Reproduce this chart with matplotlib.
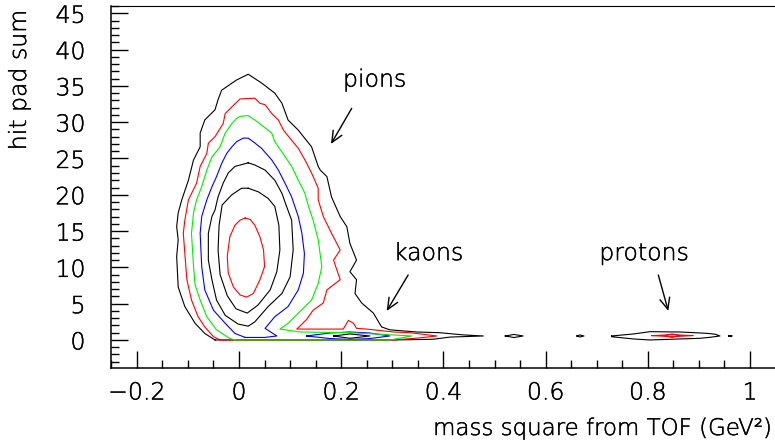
import matplotlib
matplotlib.use("Agg")
import matplotlib.pyplot as plt
import matplotlib.patheffects as pe
from matplotlib.ticker import MultipleLocator, FixedLocator, FixedFormatter

plt.rcParams['font.family'] = ['DejaVu Sans']
plt.rcParams['font.weight'] = 200

# === Axis ticks ===
x_major = [-0.2, 0.0, 0.2, 0.4, 0.6, 0.8, 1.0]
x_major_labels = ['\u22120.2', '0', '0.2', '0.4', '0.6', '0.8', '1']
y_major = [0, 5, 10, 15, 20, 25, 30, 35, 40, 45]
y_major_labels = ['0', '5', '10', '15', '20', '25', '30', '35', '40', '45']

# === Contour lines of hit pad sum vs m^2 (level 1 = outermost) ===
# level 1, pion + kaon band
lev1_x = [-0.047, -0.067, -0.086, -0.106, -0.119, -0.122, -0.119, -0.122, -0.119, -0.112,
          -0.099, -0.089, -0.076, -0.076, -0.067, -0.047, -0.041, -0.034, -0.005, 0.018,
          0.044, 0.070, 0.084, 0.096, 0.116, 0.142, 0.155, 0.159, 0.172, 0.181,
          0.198, 0.211, 0.217, 0.230, 0.217, 0.230, 0.227, 0.240, 0.263, 0.279,
          0.295, 0.348, 0.393, 0.439, 0.478, 0.413, 0.380, 0.302]
lev1_y = [0.0, 0.9, 2.3, 4.6, 7.3, 11.5, 13.8, 15.6, 17.5, 19.3,
          22.0, 24.8, 26.6, 28.5, 30.3, 31.7, 33.1, 34.4, 35.8, 36.6,
          35.4, 34.0, 32.6, 30.3, 28.9, 26.6, 23.9, 23.4, 22.5, 19.7,
          17.0, 15.6, 13.3, 11.0, 9.4, 8.3, 6.4, 5.1, 3.7, 1.8,
          1.4, 1.1, 1.0, 0.7, 0.55, 0.4, 0.1, 0.0]
# level 1 islands further out in m^2
isl1_x = [0.521, 0.538, 0.556, 0.538]
isl1_y = [0.55, 0.76, 0.55, 0.34]
isl2_x = [0.661, 0.667, 0.675, 0.667]
isl2_y = [0.55, 0.69, 0.55, 0.41]
isl3_x = [0.958, 0.961, 0.965, 0.961]
isl3_y = [0.55, 0.6, 0.55, 0.5]
# level 1, protons
prot1_x = [0.729, 0.772, 0.804, 0.863, 0.915, 0.932, 0.941, 0.922, 0.902, 0.804, 0.772, 0.729]
prot1_y = [0.55, 0.83, 1.14, 1.1, 0.92, 0.79, 0.55, 0.37, 0.23, 0.0, 0.14, 0.45]

# level 2
lev2_x = [-0.037, -0.050, -0.067, -0.080, -0.093, -0.102, -0.106, -0.109, -0.106, -0.099,
          -0.083, -0.076, -0.063, -0.060, -0.047, -0.031, -0.027, -0.014, 0.002, 0.031,
          0.041, 0.051, 0.064, 0.077, 0.087, 0.103, 0.116, 0.129, 0.142, 0.155,
          0.155, 0.165, 0.181, 0.198, 0.185, 0.198, 0.172, 0.165, 0.145, 0.132,
          0.113, 0.204, 0.214, 0.224, 0.230, 0.250, 0.302, 0.335, 0.387, 0.348, 0.302]
lev2_y = [0.0, 0.45, 1.8, 3.2, 5.5, 8.3, 11.9, 14.7, 16.5, 19.3,
          21.6, 23.9, 25.7, 27.1, 28.0, 29.8, 31.2, 32.1, 33.2, 33.3,
          32.6, 32.4, 31.2, 30.3, 28.9, 27.5, 26.4, 24.8, 23.0, 20.9,
          19.3, 17.0, 14.7, 12.4, 11.0, 8.3, 6.9, 5.1, 4.1, 2.8,
          1.5, 1.5, 2.7, 2.3, 1.6, 1.5, 1.1, 1.0, 0.55, 0.25, 0.0]
prot2_x = [0.808, 0.847, 0.889, 0.847]
prot2_y = [0.6, 0.73, 0.6, 0.45]
prot2b_x = [0.834, 0.847, 0.863, 0.847]
prot2b_y = [0.62, 0.83, 0.62, 0.34]

# level 3
lev3_x = [-0.008, -0.018, -0.044, -0.063, -0.076, -0.086, -0.089, -0.093, -0.089, -0.083,
          -0.073, -0.063, -0.053, -0.037, -0.027, -0.014, -0.005, 0.002, 0.018, 0.031,
          0.044, 0.064, 0.070, 0.084, 0.103, 0.116, 0.129, 0.136, 0.145, 0.155,
          0.162, 0.155, 0.142, 0.116, 0.096, 0.080, 0.119, 0.217, 0.286, 0.338,
          0.315, 0.295]
lev3_y = [0.0, 0.2, 1.4, 3.2, 5.5, 7.6, 10.1, 14.7, 17.5, 19.3,
          21.1, 23.4, 25.2, 26.6, 28.5, 29.8, 30.5, 30.8, 30.9, 30.3,
          29.6, 28.5, 27.3, 25.9, 23.9, 22.0, 20.2, 18.4, 16.5, 13.8,
          10.1, 7.8, 5.5, 3.7, 2.3, 1.5, 1.1, 1.0, 0.75, 0.55,
          0.25, 0.0]

# level 4
lev4_x = [0.012, -0.008, -0.027, -0.050, -0.067, -0.073, -0.076, -0.073, -0.063, -0.053,
          -0.044, -0.034, -0.024, -0.014, -0.005, 0.008, 0.018, 0.028, 0.044, 0.064,
          0.077, 0.090, 0.103, 0.116, 0.123, 0.128, 0.126, 0.116, 0.096, 0.070,
          0.051, 0.074, 0.050]
lev4_y = [0.35, 0.9, 2.3, 4.1, 6.9, 10.1, 14.7, 17.0, 19.3, 21.1,
          22.5, 24.3, 25.7, 26.6, 27.3, 27.8, 27.8, 27.3, 26.4, 24.8,
          23.4, 21.6, 19.7, 17.0, 14.7, 11.9, 9.2, 6.9, 4.6, 3.2,
          1.6, 0.55, 0.35]
kaon4_x = [0.132, 0.178, 0.217, 0.256, 0.295, 0.256, 0.217, 0.178]
kaon4_y = [0.55, 0.96, 1.1, 0.96, 0.55, 0.2, 0.07, 0.2]

# level 5
lev5_x = [0.018, 0.031, 0.051, 0.070, 0.084, 0.093, 0.103, 0.106, 0.100, 0.084,
          0.057, 0.031, 0.018, -0.002, -0.027, -0.044, -0.053, -0.060, -0.060, -0.053,
          -0.047, -0.041, -0.031, -0.021, -0.008]
lev5_y = [24.4, 24.1, 23.4, 22.0, 20.2, 18.4, 16.5, 12.4, 8.7, 6.4,
          4.6, 2.5, 1.9, 2.2, 3.4, 5.5, 8.3, 11.0, 14.7, 17.0,
          17.9, 19.7, 21.6, 23.0, 23.9]
kaon5_x = [0.185, 0.217, 0.256, 0.217]
kaon5_y = [0.55, 0.83, 0.55, 0.23]

# level 6
lev6_x = [0.018, 0.038, 0.057, 0.070, 0.078, 0.080, 0.074, 0.061, 0.037, 0.016,
          -0.006, -0.023, -0.037, -0.041, -0.039, -0.033, -0.014, 0.005]
lev6_y = [20.9, 20.4, 19.5, 18.4, 15.8, 12.4, 9.4, 6.9, 4.8, 3.7,
          4.3, 6.1, 9.0, 12.4, 15.8, 18.6, 20.0, 20.9]

# level 7
lev7_x = [0.012, 0.022, 0.031, 0.041, 0.048, 0.050, 0.041, 0.028, 0.015, 0.002,
          -0.011, -0.021, -0.023, -0.018, -0.008, 0.002]
lev7_y = [16.8, 16.6, 15.8, 14.2, 12.4, 10.1, 8.3, 6.4, 5.9, 6.2,
          7.3, 9.2, 11.5, 14.2, 15.8, 16.5]

BLACK, RED, GREEN, BLUE = '#000000', '#ff0000', '#00ee00', '#0000ff'

contours = [
    (lev1_x, lev1_y, BLACK, 2), (isl1_x, isl1_y, BLACK, 2), (isl2_x, isl2_y, BLACK, 2),
    (isl3_x, isl3_y, BLACK, 2), (prot1_x, prot1_y, BLACK, 2),
    (lev2_x, lev2_y, RED, 3), (prot2_x, prot2_y, RED, 3), (prot2b_x, prot2b_y, RED, 3),
    (lev4_x, lev4_y, BLUE, 4), (kaon4_x, kaon4_y, BLUE, 4),
    (lev3_x, lev3_y, GREEN, 5),
    (lev5_x, lev5_y, BLACK, 6), (kaon5_x, kaon5_y, BLACK, 6),
    (lev6_x, lev6_y, BLACK, 6), (lev7_x, lev7_y, RED, 6),
]

# thin font, darkened a little with an outline
ink = [pe.withStroke(linewidth=0.3, foreground='black')]

fig = plt.figure(figsize=(7.75, 4.43), dpi=100)
ax = fig.add_axes([111.25 / 775, 75 / 443, 664.35 / 775, 362 / 443])

for xs, ys, col, z in contours:
    ax.plot(xs + xs[:1], ys + ys[:1], color=col, lw=0.8, zorder=z)

ax.set_xlim(-0.25, 1.05)
ax.set_ylim(-3.86, 46.0)

ax.xaxis.set_major_locator(FixedLocator(x_major))
ax.xaxis.set_major_formatter(FixedFormatter(x_major_labels))
ax.yaxis.set_major_locator(FixedLocator(y_major))
ax.yaxis.set_major_formatter(FixedFormatter(y_major_labels))
ax.xaxis.set_minor_locator(MultipleLocator(0.05))
ax.yaxis.set_minor_locator(MultipleLocator(1))

ax.tick_params(which='both', direction='in', width=1.0, top=False, right=False,
               labelsize=17)
ax.tick_params(which='major', length=12.5)
ax.tick_params(which='minor', length=5.8)
ax.tick_params(axis='y', pad=18.5)
ax.tick_params(axis='x', pad=9)
for lbl in ax.get_xticklabels() + ax.get_yticklabels():
    lbl.set_path_effects(ink)

ax.spines['right'].set_visible(False)
for side in ('left', 'bottom'):
    ax.spines[side].set_linewidth(1.1)
ax.spines['top'].set_linewidth(0.8)

# particle labels
arrow = dict(arrowstyle='->,head_length=0.45,head_width=0.2', lw=1.0, color='black',
             shrinkA=0, shrinkB=0, mutation_scale=18)
for name, (tx, ty), tip, tail in [
        ('pions', (0.2035, 34.9), (0.180, 27.0), (0.2205, 31.9)),
        ('kaons', (0.303, 11.0), (0.289, 4.0), (0.331, 8.95)),
        ('protons', (0.705, 11.0), (0.840, 4.0), (0.8205, 8.95))]:
    ax.text(tx, ty, name, fontsize=17, ha='left', va='baseline', path_effects=ink)
    ax.annotate('', xy=tip, xytext=tail, arrowprops=arrow)

fig.text(771 / 775, (443 - 435) / 443, 'mass square from TOF (GeV\u00b2)', fontsize=16.5,
         ha='right', va='baseline', path_effects=ink)
fig.text(19 / 775, (443 - 10) / 443, 'hit pad sum', fontsize=17, rotation=90,
         ha='center', va='top', path_effects=ink)

fig.savefig('out.png', dpi=100)
